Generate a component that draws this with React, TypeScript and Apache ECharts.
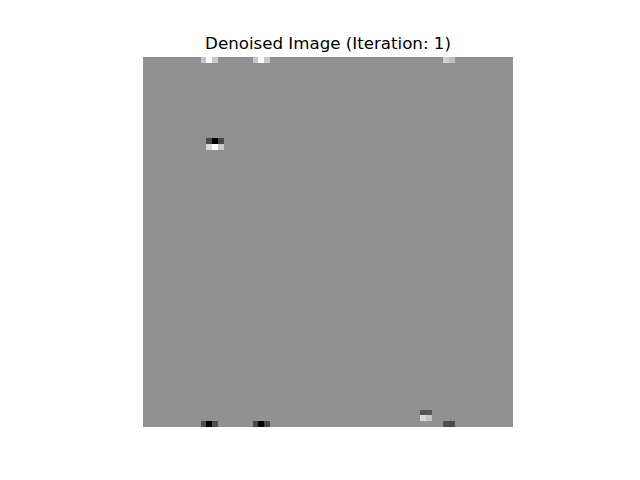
import React, { useEffect, useRef } from "react";
import * as echarts from "echarts";

// image size (pixels of the denoised image)
const SIZE = 64;
// grey level of the flat background
const BACKGROUND = 145;
// cells that differ from the background: [row, col, grey]
const ROWS = [0, 0, 0, 0, 0, 0, 0, 0, 14, 14, 14, 15, 15, 15, 61, 61, 62, 62, 63, 63, 63, 63, 63, 63, 63, 63];
const COLS = [10, 11, 12, 19, 20, 21, 52, 53, 11, 12, 13, 11, 12, 13, 48, 49, 48, 49, 10, 11, 12, 19, 20, 21, 52, 53];
const GREYS = [198, 250, 200, 200, 255, 200, 207, 189, 74, 0, 72, 216, 255, 200, 82, 86, 216, 196, 80, 0, 80, 72, 5, 72, 80, 74];

const TITLE = "Denoised Image (Iteration: 1)";

export default function App() {
	const chartRef = useRef<HTMLDivElement>(null);

	useEffect(() => {
		if (!chartRef.current) return;
		const chart = echarts.init(chartRef.current, null, { renderer: "svg" });

		const grid: number[][] = [];
		for (let r = 0; r < SIZE; r++) {
			grid.push(new Array(SIZE).fill(BACKGROUND));
		}
		ROWS.forEach((r, i) => {
			grid[r][COLS[i]] = GREYS[i];
		});
		const data: number[][] = [];
		for (let r = 0; r < SIZE; r++) {
			for (let c = 0; c < SIZE; c++) {
				data.push([c, r, grid[r][c]]);
			}
		}
		const labels = Array.from({ length: SIZE }, (_, i) => String(i));

		chart.setOption({
			animation: false,
			title: {
				text: TITLE,
				left: 323,
				top: 30,
				textAlign: "center",
				textStyle: {
					fontFamily: "DejaVu Sans",
					fontSize: 16.67,
					fontWeight: "normal",
					color: "#000000"
				}
			},
			grid: {
				left: 143.2,
				top: 57.6,
				width: 369.6,
				height: 369.6
			},
			xAxis: {
				type: "category",
				data: labels,
				show: false
			},
			yAxis: {
				type: "category",
				data: labels,
				inverse: true,
				show: false
			},
			visualMap: {
				show: false,
				min: 0,
				max: 255,
				dimension: 2,
				inRange: { color: ["#000000", "#ffffff"] }
			},
			series: [{
				type: "heatmap",
				data: data,
				itemStyle: { borderWidth: 0 },
				emphasis: { disabled: true }
			}]
		});

		return () => {
			chart.dispose();
		};
	}, []);

	return (
		<>
			<style>{".heat svg path { shape-rendering: crispEdges; }"}</style>
			<div className="heat" ref={chartRef} style={{ position: "fixed", left: 0, top: 0, width: 640, height: 480, background: "#ffffff" }} />
		</>
	);
}
